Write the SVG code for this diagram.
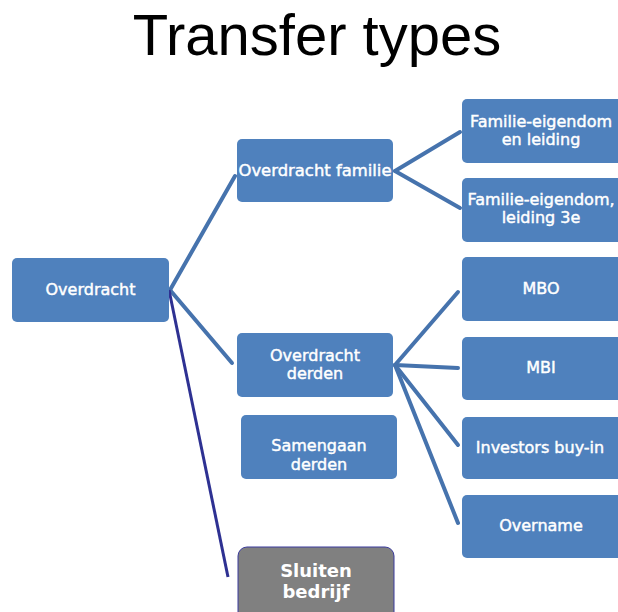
<svg xmlns="http://www.w3.org/2000/svg" width="618" height="612" viewBox="0 0 618 612">
<style>
.box{fill:#4F81BD;}
.lbl{font-family:"DejaVu Sans",Verdana,sans-serif;font-size:16px;fill:#ffffff;stroke:#ffffff;stroke-width:0.45;text-anchor:middle;}
.big{font-family:"DejaVu Sans",Verdana,sans-serif;font-size:18px;font-weight:bold;fill:#ffffff;text-anchor:middle;}
.con{stroke:#4673AD;stroke-width:4;stroke-linecap:round;fill:none;}
</style>
<rect width="618" height="612" fill="#ffffff"/>
<text x="317" y="55" font-family="Liberation Sans,Arial,sans-serif" font-size="58" fill="#000000" text-anchor="middle">Transfer types</text>
<g id="connectors">
<line class="con" x1="170" y1="290" x2="235" y2="176"/>
<line class="con" x1="170" y1="290" x2="232" y2="363"/>
<line class="con" x1="395" y1="171" x2="460" y2="132"/>
<line class="con" x1="395" y1="171" x2="460" y2="208"/>
<line class="con" x1="395" y1="365" x2="458" y2="292"/>
<line class="con" x1="395" y1="365" x2="458" y2="368"/>
<line class="con" x1="395" y1="365" x2="458" y2="445"/>
<line class="con" x1="395" y1="365" x2="458" y2="523"/>
<line x1="169" y1="290" x2="228" y2="577" stroke="#2E3192" stroke-width="3"/>
</g>
<g id="overdracht">
<rect class="box" x="12" y="258" width="157" height="64" rx="5"/>
<text class="lbl" x="90.5" y="295">Overdracht</text>
</g>
<g id="overdracht-familie">
<rect class="box" x="237" y="139" width="156" height="63" rx="5"/>
<text class="lbl" x="315" y="176" textLength="153" lengthAdjust="spacingAndGlyphs">Overdracht familie</text>
</g>
<g id="overdracht-derden">
<rect class="box" x="237" y="333" width="156" height="64" rx="5"/>
<text class="lbl" x="315" y="361">Overdracht</text>
<text class="lbl" x="315" y="379">derden</text>
</g>
<g id="samengaan-derden">
<rect class="box" x="241" y="415" width="156" height="64" rx="5"/>
<text class="lbl" x="319" y="451">Samengaan</text>
<text class="lbl" x="319" y="470">derden</text>
</g>
<g id="sluiten-bedrijf">
<rect x="238" y="547" width="156" height="75" rx="9" fill="#808080" stroke="#3B3B9C" stroke-width="1"/>
<text class="big" x="316" y="577">Sluiten</text>
<text class="big" x="316" y="598">bedrijf</text>
</g>
<g id="familie-eigendom-leiding">
<rect class="box" x="462" y="99" width="160" height="64" rx="5"/>
<text class="lbl" x="541" y="127">Familie-eigendom</text>
<text class="lbl" x="541" y="145">en leiding</text>
</g>
<g id="familie-eigendom-3e">
<rect class="box" x="462" y="178" width="160" height="64" rx="5"/>
<text class="lbl" x="541" y="205">Familie-eigendom,</text>
<text class="lbl" x="541" y="223">leiding 3e</text>
</g>
<g id="mbo">
<rect class="box" x="462" y="257" width="160" height="64" rx="5"/>
<text class="lbl" x="541" y="294">MBO</text>
</g>
<g id="mbi">
<rect class="box" x="462" y="337" width="160" height="63" rx="5"/>
<text class="lbl" x="541" y="373">MBI</text>
</g>
<g id="investors-buy-in">
<rect class="box" x="462" y="417" width="160" height="62" rx="5"/>
<text class="lbl" x="540" y="453">Investors buy-in</text>
</g>
<g id="overname">
<rect class="box" x="462" y="495" width="160" height="63" rx="5"/>
<text class="lbl" x="541" y="531">Overname</text>
</g>
</svg>
